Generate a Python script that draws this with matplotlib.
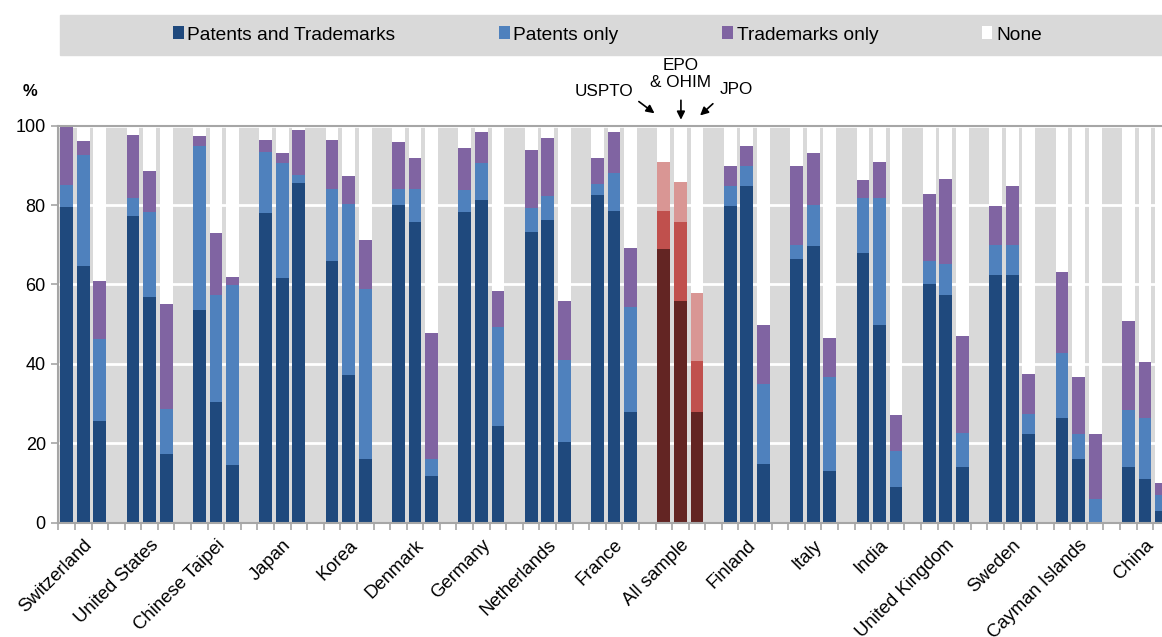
import matplotlib.pyplot as plt
import numpy as np

plt.rcParams['font.family'] = ['Liberation Sans', 'DejaVu Sans']

countries = ["Switzerland", "United States", "Chinese Taipei", "Japan", "Korea",
             "Denmark", "Germany", "Netherlands", "France", "All sample",
             "Finland", "Italy", "India", "United Kingdom", "Sweden",
             "Cayman Islands", "China"]
offices = ["USPTO", "EPO\n& OHIM", "JPO"]
series = ["Patents and Trademarks", "Patents only", "Trademarks only", "None"]

# shares in %, one triple per country: USPTO, EPO & OHIM, JPO
pat_and_tm = [[79.6, 64.7, 25.7], [77.2, 56.9, 17.4], [53.7, 30.3, 14.6],
              [77.9, 61.6, 85.6], [66.0, 37.3, 16.0], [79.9, 75.8, 11.8],
              [78.3, 81.4, 24.4], [73.3, 76.3, 20.4], [82.6, 78.6, 27.9],
              [68.9, 55.9, 27.9], [79.8, 84.8, 14.9], [66.5, 69.8, 13.1],
              [68.0, 49.9, 9.0], [60.2, 57.4, 14.1], [62.4, 62.4, 22.3],
              [26.4, 16.1, 0.0], [14.1, 11.1, 2.9]]
pat_only = [[5.4, 27.8, 20.5], [4.6, 21.3, 11.2], [41.3, 27.0, 45.2],
            [15.5, 28.9, 2.1], [18.0, 42.9, 42.9], [4.1, 8.2, 4.2],
            [5.4, 9.2, 24.8], [6.0, 5.9, 20.7], [2.6, 9.4, 26.5],
            [9.6, 19.8, 12.8], [5.1, 5.0, 20.0], [3.4, 10.1, 23.5],
            [13.7, 31.8, 9.0], [5.7, 7.7, 8.4], [7.5, 7.5, 5.1],
            [16.3, 6.2, 5.9], [14.4, 15.3, 4.1]]
tm_only = [[15.0, 3.6, 14.8], [15.8, 10.3, 26.6], [2.5, 15.7, 2.2],
           [3.0, 2.6, 11.3], [12.3, 7.2, 12.4], [11.9, 7.9, 31.8],
           [10.8, 7.7, 9.1], [14.7, 14.7, 14.7], [6.7, 10.5, 14.8],
           [12.3, 10.1, 17.1], [4.9, 5.1, 14.9], [19.9, 13.3, 9.9],
           [4.5, 9.1, 9.1], [16.9, 21.5, 24.5], [9.9, 14.9, 10.0],
           [20.4, 14.3, 16.4], [22.4, 14.2, 3.1]]

BLUE = ["#1f497d", "#4f81bd", "#8064a2"]
RED = ["#632523", "#c0504d", "#d99694"]
BG = "#d9d9d9"
GREY = "#a6a6a6"
W = 0.77

fig = plt.figure(figsize=(11.62, 6.37), dpi=100)
# axes runs past the right edge like the cropped original
ax = fig.add_axes([0.0502, 0.1794, 0.9708, 0.6233])
ax.set_facecolor(BG)

handles = None
for g, name in enumerate(countries):
    x = 4 * g + np.arange(3)
    a = np.array(pat_and_tm[g])
    b = np.array(pat_only[g])
    c = np.array(tm_only[g])
    none = 100 - a - b - c
    cols = RED if name == "All sample" else BLUE
    h1 = ax.bar(x, a, W, color=cols[0], lw=0)
    h2 = ax.bar(x, b, W, bottom=a, color=cols[1], lw=0)
    h3 = ax.bar(x, c, W, bottom=a + b, color=cols[2], lw=0)
    h4 = ax.bar(x, none, W, bottom=a + b + c, color="white", lw=0)
    if handles is None:
        handles = [h1, h2, h3, h4]

ax.set_xlim(-0.5, 4 * len(countries) - 0.5)
ax.set_ylim(0, 100)
ax.set_yticks(np.arange(0, 101, 20))
ax.yaxis.grid(True, color="white", lw=2)
ax.set_axisbelow(True)

ax.set_xticks([4 * g + 1 for g in range(len(countries))])
ax.set_xticklabels(countries, rotation=45, ha="right", rotation_mode="anchor")
ax.set_xticks(np.arange(-0.5, 4 * len(countries), 1), minor=True)
ax.tick_params(axis="x", which="major", length=0, pad=10, labelsize=13.3)
ax.tick_params(axis="x", which="minor", length=5, color=GREY, width=1.2)
ax.tick_params(axis="y", length=5, color=GREY, width=1.2, labelsize=13, pad=4)

for side in ["left", "bottom", "top"]:
    ax.spines[side].set_color(GREY)
    ax.spines[side].set_linewidth(1.5)
ax.spines["right"].set_visible(False)

ax.text(-2.2, 108.6, "%", fontsize=12, fontweight="bold", ha="center", va="center")

# office labels above the "All sample" bars
ax.text(32.4, 108.7, offices[0], fontsize=12.3, ha="center", va="center")
ax.text(37.03, 113.0, offices[1], fontsize=12.3, ha="center", va="center",
        linespacing=1.2)
ax.text(40.4, 109.0, offices[2], fontsize=12.3, ha="center", va="center")
arrow = dict(arrowstyle="-|>", color="black", lw=1.2, mutation_scale=12)
ax.annotate("", xy=(35.57, 102.7), xytext=(34.36, 106.5), arrowprops=arrow,
            annotation_clip=False)
ax.annotate("", xy=(37.03, 100.8), xytext=(37.03, 107.1), arrowprops=arrow,
            annotation_clip=False)
ax.annotate("", xy=(38.06, 102.1), xytext=(39.08, 106.0), arrowprops=arrow,
            annotation_clip=False)

# legend band
fig.patches.append(plt.Rectangle((0.0516, 0.9137), 0.96, 0.0628,
                                 transform=fig.transFigure, color=BG, zorder=0))
fig.legend(handles, series, loc="center", bbox_to_anchor=(0.5228, 0.945),
           ncol=4, frameon=False, fontsize=13.8, handlelength=0.55,
           handleheight=0.65, handletextpad=0.2, columnspacing=5.4)

fig.savefig("out.png", dpi=100)
